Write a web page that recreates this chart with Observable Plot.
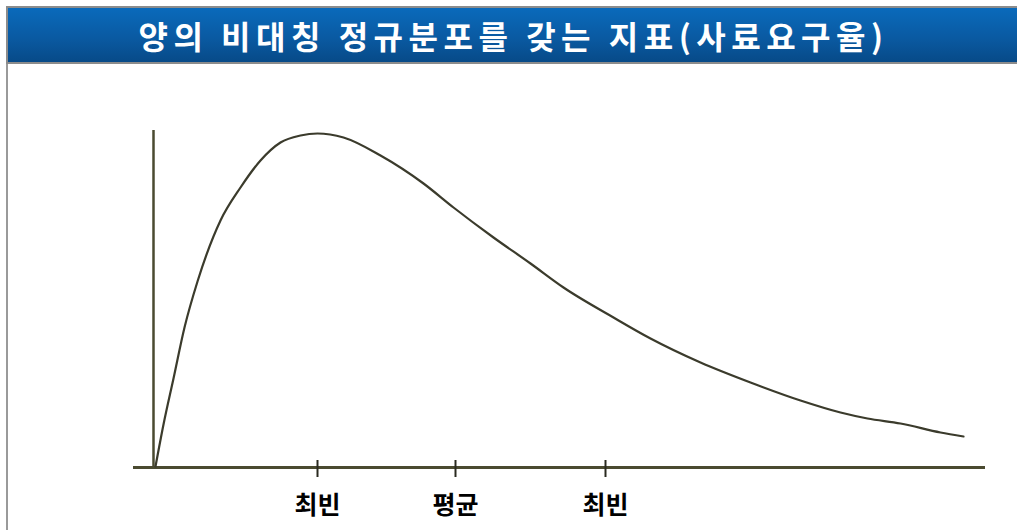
<!DOCTYPE html>
<html>
<head>
<meta charset="utf-8">
<script src="https://cdn.jsdelivr.net/npm/d3@7"></script>
<script src="https://cdn.jsdelivr.net/npm/@observablehq/plot@0.6"></script>
<style>
  html, body { margin: 0; padding: 0; background: #fff; width: 1017px; height: 530px; overflow: hidden; }
  #frame { position: absolute; left: 6px; top: 6px; width: 2px; height: 530px; background: #9a9a9a; }
  #title {
    position: absolute; left: 6px; top: 6px; width: 1011px; height: 54px;
    border-top: 2px solid #8c8c8c; border-left: 2px solid #8c8c8c; border-bottom: 2px solid #8c8c8c;
    background: linear-gradient(#0a6abb, #0a5aa2 55%, #074a88);
    color: #fff; font-family: "Noto Sans CJK KR", sans-serif; font-weight: 600;
    font-size: 32px; letter-spacing: 5.5px; text-align: center; line-height: 54px;
    box-sizing: content-box;
  }
  #chart { position: absolute; left: 0; top: 64px; }
</style>
</head>
<body>
<div id="frame"></div>
<div id="title">양의 비대칭 정규분포를 갖는 지표(사료요구율)</div>
<div id="chart"></div>
<script>
// curve (arbitrary units)
const curveX = [0.2, 1.0, 2.0, 3.1, 4.4, 6.7, 8.7, 10.7, 12.7, 14.7, 16.4, 19.0, 22.7, 27.0, 30.0, 34.0, 37.7, 41.0, 46.0, 49.7, 54.7, 59.7, 64.7, 68.7, 71.4, 74.7, 78.7, 81.0];
const curveY = [0.1, 4.3, 8.9, 14.0, 18.6, 24.7, 28.0, 30.7, 32.5, 33.2, 33.4, 33.0, 31.2, 28.4, 26.0, 23.0, 20.4, 18.0, 15.0, 12.9, 10.5, 8.5, 6.7, 5.5, 4.9, 4.4, 3.5, 3.1];
const tickPos = [16.4, 30.2, 45.2];
const tickLabels = ["최빈", "평균", "최빈"];

const pts = curveX.map((x, i) => ({x, y: curveY[i]}));
const axisColor = "#4a4a30";

const chart = Plot.plot({
  width: 1017,
  height: 466,
  marginLeft: 133,
  marginRight: 32,
  marginTop: 66,
  marginBottom: 63,
  x: {domain: [-2, 83.2], axis: null},
  y: {domain: [0, 33.7], axis: null},
  style: {background: "transparent"},
  marks: [
    Plot.ruleY([0], {stroke: axisColor, strokeWidth: 3}),
    Plot.ruleX([0], {stroke: axisColor, strokeWidth: 2.5}),
    Plot.ruleX(tickPos, {y1: -1.0, y2: 0.7, stroke: "#2a2a20", strokeWidth: 2}),
    Plot.line(pts, {x: "x", y: "y", curve: "monotone-x", stroke: "#3b3b2c", strokeWidth: 2.2}),
    Plot.text(tickPos.map((p, i) => ({p, t: tickLabels[i]})), {
      x: "p", y: 0, text: "t", dy: 38, fontSize: 25, fontWeight: "bold",
      fontFamily: "Noto Sans CJK KR", fill: "#000"
    })
  ]
});
document.getElementById("chart").appendChild(chart);
</script>
</body>
</html>
